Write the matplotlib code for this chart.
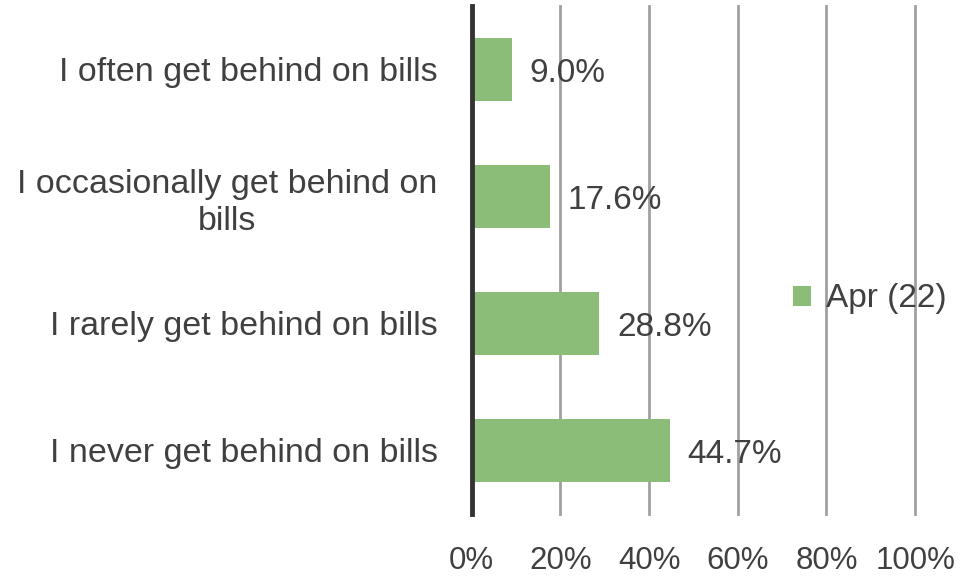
import matplotlib
matplotlib.use("Agg")
import matplotlib.pyplot as plt
from matplotlib.patches import Patch

categories = [
    "I often get behind on bills",
    "I occasionally get behind on\nbills",
    "I rarely get behind on bills",
    "I never get behind on bills",
]
values = [9.0, 17.6, 28.8, 44.7]
series_name = "Apr (22)"
x_ticks = [0, 20, 40, 60, 80, 100]
x_tick_labels = ["0%", "20%", "40%", "60%", "80%", "100%"]

bar_color = "#8BBD78"
text_color = "#404040"
fs = 24.5

plt.rcParams["font.family"] = ["Liberation Sans", "DejaVu Sans"]

fig = plt.figure(figsize=(9.64, 5.77), dpi=100)
ax = fig.add_axes([0.4893, 0.1092, 0.4600, 0.8804])

y = list(range(len(categories)))
ax.barh(y, values, height=0.5, color=bar_color, zorder=2)

for yi, v in zip(y, values):
    ax.text(v + 4.0, yi + 0.03, f"{v:.1f}%", va="center", ha="left",
            fontsize=24, color=text_color, zorder=4)

ax.set_xlim(0, 100)
ax.set_ylim(len(categories) - 0.5, -0.5)
ax.set_yticks(y)
ax.set_yticklabels(categories, fontsize=fs, color=text_color, ha="right",
                   multialignment="center", linespacing=1.25)
ax.set_xticks(x_ticks)
ax.set_xticklabels(x_tick_labels, fontsize=22.5, color=text_color)
ax.tick_params(axis="both", length=0)
ax.tick_params(axis="x", pad=23)
ax.tick_params(axis="y", pad=24.5)

# Vertical gridlines drawn over the bars
ax.xaxis.grid(True, color="#A0A0A0", linewidth=2.0)
for line in ax.get_xgridlines():
    line.set_zorder(3)
    line.set_clip_on(False)

for side in ["top", "right", "bottom"]:
    ax.spines[side].set_visible(False)
ax.spines["left"].set_color("#333333")
ax.spines["left"].set_linewidth(3.5)
ax.spines["left"].set_zorder(5)

handles = [Patch(facecolor=bar_color, edgecolor="none", label=series_name)]
fig.legend(handles=handles, loc="center left", bbox_to_anchor=(0.8225, 0.482),
           frameon=False, fontsize=24, labelcolor=text_color,
           handlelength=0.55, handleheight=0.55, handletextpad=0.45,
           borderaxespad=0, borderpad=0)

fig.savefig("out.png", dpi=100, facecolor="white")
